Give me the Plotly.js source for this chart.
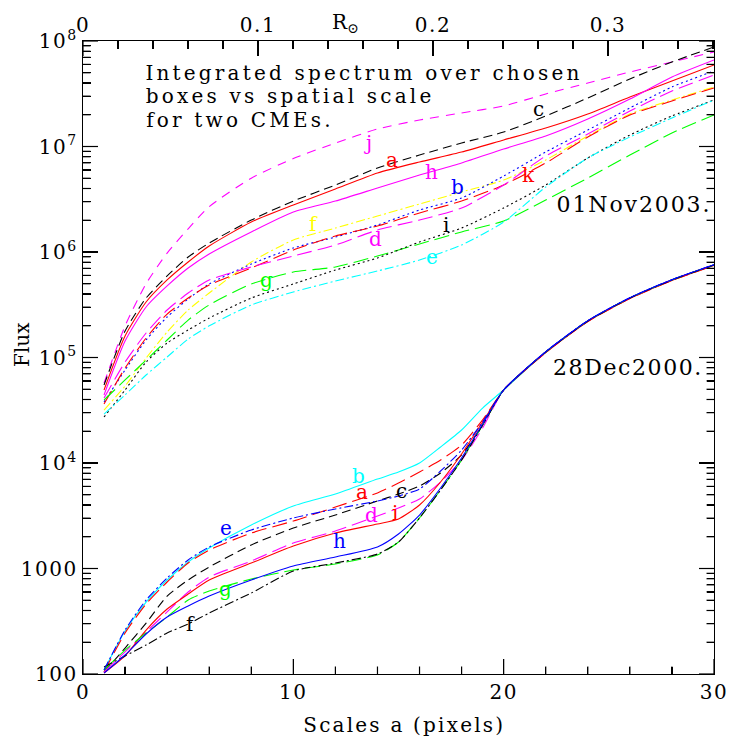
<!DOCTYPE html>
<html>
<head>
<meta charset="utf-8">
<script src="https://cdn.plot.ly/plotly-3.0.1.min.js"></script>
<style>
  html, body { margin: 0; padding: 0; background: #fff; }
  #plot { width: 734px; height: 744px; }
</style>
</head>
<body>
<div id="plot"></div>
<script>
// ---- x values (scale a, pixels) ----
const xNov = [1,2,3,4,5,6,8,10,12,14,16,18,20,22,24,26,28,30];
const xDec = [1,2,3,4,5,6,8,10,12,14,15,16,17,18,19,20,22,24,26,28,30];

// ---- 01Nov2003: log10(Flux) ----
const nov_a = [4.692,5.204,5.526,5.735,5.905,6.057,6.284,6.445,6.597,6.749,6.853,6.948,7.062,7.175,7.308,7.469,7.621,7.773];
const nov_b = [4.578,4.882,5.166,5.384,5.555,5.697,5.886,6.038,6.142,6.256,6.398,6.512,6.720,6.948,7.156,7.365,7.564,7.716];
const nov_c = [4.739,5.251,5.564,5.773,5.953,6.085,6.303,6.483,6.635,6.796,6.919,7.033,7.137,7.289,7.460,7.640,7.801,7.943];
const nov_d = [4.616,4.957,5.232,5.450,5.611,5.735,5.858,5.962,6.066,6.209,6.303,6.417,6.635,6.910,7.118,7.336,7.526,7.678];
const nov_e = [4.464,4.645,4.834,5.005,5.175,5.300,5.498,5.621,5.725,5.820,5.924,6.066,6.284,6.616,6.891,7.090,7.270,7.441];
const nov_f = [4.502,4.730,4.995,5.242,5.450,5.611,5.905,6.114,6.227,6.341,6.455,6.569,6.682,6.872,7.100,7.308,7.441,7.564];
const nov_g = [4.597,4.787,4.976,5.166,5.355,5.498,5.697,5.810,5.858,5.962,6.076,6.190,6.294,6.493,6.701,6.919,7.128,7.299];
const nov_h = [4.645,5.156,5.479,5.678,5.848,5.981,6.190,6.379,6.483,6.607,6.730,6.844,6.976,7.100,7.261,7.450,7.659,7.820];
const nov_i = [4.436,4.692,4.957,5.137,5.261,5.374,5.564,5.697,5.829,5.943,6.095,6.227,6.417,6.635,6.891,7.109,7.289,7.441];
const nov_j = [4.758,5.300,5.700,5.990,6.220,6.430,6.700,6.886,7.033,7.166,7.251,7.318,7.384,7.498,7.602,7.706,7.801,7.896];
const nov_k = [4.559,4.900,5.185,5.412,5.564,5.687,5.848,6.019,6.152,6.246,6.370,6.483,6.635,6.844,7.090,7.299,7.431,7.555];

// ---- 28Dec2000: log10(Flux) ----
const dec_a = [2.019,2.389,2.664,2.872,3.052,3.175,3.336,3.450,3.583,3.716,3.810,3.915,4.028,4.171,4.408,4.692,5.047,5.341,5.559,5.730,5.872];
const dec_b = [2.038,2.408,2.682,2.891,3.062,3.194,3.412,3.592,3.706,3.848,3.915,4.000,4.152,4.313,4.521,4.692,5.052,5.346,5.564,5.735,5.877];
const dec_c = [2.019,2.246,2.483,2.739,2.891,3.014,3.223,3.384,3.507,3.640,3.706,3.782,3.905,4.076,4.360,4.692,5.052,5.346,5.564,5.735,5.877];
const dec_d = [2.019,2.209,2.398,2.588,2.777,2.919,3.071,3.242,3.355,3.498,3.573,3.659,3.820,4.028,4.332,4.692,5.052,5.346,5.564,5.735,5.877];
const dec_e = [2.038,2.417,2.701,2.910,3.081,3.204,3.365,3.479,3.564,3.640,3.687,3.754,3.924,4.123,4.389,4.692,5.055,5.349,5.567,5.738,5.880];
const dec_f = [2.066,2.171,2.275,2.389,2.474,2.578,2.768,2.976,3.052,3.137,3.251,3.479,3.744,4.028,4.360,4.692,5.052,5.346,5.564,5.735,5.877];
const dec_g = [2.038,2.227,2.389,2.540,2.701,2.787,2.900,2.986,3.043,3.128,3.251,3.479,3.744,4.028,4.360,4.692,5.052,5.346,5.564,5.735,5.877];
const dec_h = [2.009,2.180,2.379,2.540,2.645,2.739,2.891,3.024,3.109,3.204,3.327,3.507,3.763,4.047,4.370,4.692,5.055,5.349,5.567,5.738,5.880];
const dec_i = [2.009,2.171,2.417,2.616,2.758,2.891,3.052,3.213,3.336,3.422,3.469,3.602,3.820,4.085,4.389,4.692,5.047,5.341,5.559,5.730,5.872];

// ---- tick labels / tick values ----
const yTickVals = [1e2,1e3,1e4,1e5,1e6,1e7,1e8];
const yTickText = ['100','1000','10<sup>4</sup>','10<sup>5</sup>','10<sup>6</sup>','10<sup>7</sup>','10<sup>8</sup>'];
const xTickVals = [0,10,20,30];
const rTickVals = [0,0.1,0.2,0.3];
const rTickText = ['0','0.1','0.2','0.3'];
const PIXELS_PER_01_RSUN = 8.32;   // 0.1 R_sun corresponds to this many pixels (top axis)
const R_MAX = 30 * 0.1 / PIXELS_PER_01_RSUN;

const yMinor = [];
for (let ex = 2; ex < 8; ex++) for (let m = 2; m <= 9; m++) yMinor.push(m * Math.pow(10, ex));
const xMinor = [];
for (let v = 2; v < 30; v += 2) if (v % 10) xMinor.push(v);
const rMinor = [];
for (let k = 1; k * 0.02 < R_MAX; k++) if (k % 5) rMinor.push(+(k * 0.02).toFixed(2));

const C_RED='#ff0000', C_BLUE='#0000ff', C_BLACK='#000000', C_MAG='#ff00ff', C_CYAN='#00ffff', C_YEL='#ffff00', C_GRN='#00ff00';
const D_SOLID='solid', D_DOT='2px,3px', D_DASH='9px,5px', D_JDASH='9px,7px', D_LDASH='15px,6px', D_DDOT='9px,3px,2px,3px';

const pow10 = arr => arr.map(v => Math.pow(10, v));
function curve(x, logy, color, dash) {
  return {x: x, y: pow10(logy), type: 'scatter', mode: 'lines',
          line: {color: color, width: 1.1, dash: dash, shape: 'spline', smoothing: 0.6},
          hoverinfo: 'skip', showlegend: false};
}

const traces = [
  curve(xNov, nov_j, C_MAG, D_JDASH), curve(xNov, nov_c, C_BLACK, D_DASH), curve(xNov, nov_a, C_RED, D_SOLID),
  curve(xNov, nov_h, C_MAG, D_SOLID), curve(xNov, nov_f, C_YEL, D_DDOT), curve(xNov, nov_b, C_BLUE, D_DOT),
  curve(xNov, nov_k, C_RED, D_LDASH), curve(xNov, nov_d, C_MAG, D_LDASH), curve(xNov, nov_g, C_GRN, D_LDASH),
  curve(xNov, nov_i, C_BLACK, D_DOT), curve(xNov, nov_e, C_CYAN, D_DDOT),
  curve(xDec, dec_b, C_CYAN, D_SOLID), curve(xDec, dec_a, C_RED, D_LDASH), curve(xDec, dec_c, C_BLACK, D_DASH),
  curve(xDec, dec_d, C_MAG, D_LDASH), curve(xDec, dec_i, C_RED, D_SOLID), curve(xDec, dec_g, C_GRN, D_LDASH),
  curve(xDec, dec_f, C_BLACK, D_DDOT), curve(xDec, dec_h, C_BLUE, D_SOLID), curve(xDec, dec_e, C_BLUE, D_DDOT),
  // invisible carrier for the top (solar radius) axis
  {x: [0], y: [1e5], xaxis: 'x2', yaxis: 'y', type: 'scatter', mode: 'markers',
   marker: {opacity: 0}, hoverinfo: 'skip', showlegend: false}
];

const FONT_FAMILY = 'DejaVu Serif';
const PLOT_L = 83, PLOT_R = 714, PLOT_T = 41, PLOT_B = 674;
const PLOT_W = PLOT_R - PLOT_L, PLOT_H = PLOT_B - PLOT_T;
const toPaperX = v => (v - PLOT_L) / PLOT_W;
const toPaperY = v => (PLOT_B - v) / PLOT_H;
function note(text, x, y, color, size) {
  return {text: text, xref: 'paper', yref: 'paper', x: toPaperX(x), y: toPaperY(y),
          xanchor: 'center', yanchor: 'middle', showarrow: false,
          font: {family: FONT_FAMILY, size: size || 20, color: color}};
}

const annotations = [
  note('Integrated spectrum over chosen', 364, 73, C_BLACK, 20),
  note('boxes vs spatial scale', 290, 96, C_BLACK, 20),
  note('for two CMEs.', 240, 120, C_BLACK, 20),
  note('01Nov2003.', 634, 204, C_BLACK, 22),
  note('28Dec2000.', 628, 367, C_BLACK, 22),
  note('R<sub>⊙</sub>', 345, 23, C_BLACK, 20),
  {text: 'Flux', xref: 'paper', yref: 'paper', x: toPaperX(22), y: toPaperY(345), textangle: -90,
   xanchor: 'center', yanchor: 'middle', showarrow: false, font: {family: FONT_FAMILY, size: 20, color: C_BLACK}},
  {text: 'Scales a (pixels)', xref: 'paper', yref: 'paper', x: toPaperX(404), y: toPaperY(725),
   xanchor: 'center', yanchor: 'middle', showarrow: false, font: {family: FONT_FAMILY, size: 20, color: C_BLACK}},
  // 01Nov2003 curve labels
  note('j', 368, 143, C_MAG), note('a', 392, 160, C_RED), note('c', 538, 109, C_BLACK),
  note('h', 431, 172, C_MAG), note('b', 457, 187, C_BLUE), note('k', 528, 175, C_RED),
  note('f', 313, 224, C_YEL), note('d', 375, 239, C_MAG), note('i', 446, 225, C_BLACK),
  note('g', 266, 280, C_GRN), note('e', 432, 257, C_CYAN),
  // 28Dec2000 curve labels
  note('b', 358, 476, C_CYAN), note('a', 362, 492, C_RED), note('c', 401, 491, C_BLACK),
  note('d', 371, 515, C_MAG), note('i', 395, 513, C_RED), note('e', 226, 528, C_BLUE),
  note('h', 339, 541, C_BLUE), note('g', 225, 589, C_GRN), note('f', 190, 624, C_BLACK)
];

// ---- tick marks as axis-referenced line shapes (inside ticks, PGPLOT style) ----
const MAJOR_LEN = 15, MINOR_LEN = 7.5;
const tickLine = {color: '#000', width: 1.2};
const shapes = [];
function xTicks(vals, len, xref) {   // bottom (x) or top (x2) axis
  const top = xref === 'x2';
  vals.forEach(v => shapes.push({type: 'line', layer: 'above', xref: xref, yref: 'paper',
    x0: v, x1: v, y0: top ? 1 : 0, y1: top ? 1 - len / PLOT_H : len / PLOT_H, line: tickLine}));
}
function yTicks(vals, len) {         // left and right (mirrored) ticks
  vals.forEach(v => {
    const yp = (Math.log10(v) - 2) / 6;
    shapes.push({type: 'line', layer: 'above', xref: 'paper', yref: 'paper', x0: 0, x1: len / PLOT_W, y0: yp, y1: yp, line: tickLine});
    shapes.push({type: 'line', layer: 'above', xref: 'paper', yref: 'paper', x0: 1, x1: 1 - len / PLOT_W, y0: yp, y1: yp, line: tickLine});
  });
}
xTicks(xTickVals, MAJOR_LEN, 'x'); xTicks(xMinor, MINOR_LEN, 'x');
xTicks(rTickVals, MAJOR_LEN, 'x2'); xTicks(rMinor, MINOR_LEN, 'x2');
yTicks(yTickVals, MAJOR_LEN); yTicks(yMinor, MINOR_LEN);

const axisCommon = {showline: true, linecolor: '#000', linewidth: 1.3, showgrid: false, zeroline: false,
                    ticks: 'inside', ticklen: MAJOR_LEN, tickwidth: 1.2, tickcolor: '#000',
                    tickfont: {family: FONT_FAMILY, size: 20, color: '#000'}};
const minorCommon = {ticks: 'inside', ticklen: MINOR_LEN, tickwidth: 1.2, tickcolor: '#000', showgrid: false};

const layout = {
  width: 734, height: 744,
  margin: {l: PLOT_L, r: 734 - PLOT_R, t: PLOT_T, b: 744 - PLOT_B, pad: 0},
  paper_bgcolor: '#fff', plot_bgcolor: '#fff',
  showlegend: false,
  xaxis: Object.assign({}, axisCommon, {
    range: [0, 30], tickmode: 'array', tickvals: xTickVals, ticktext: xTickVals.map(String),
    minor: Object.assign({tickmode: 'linear', tick0: 0, dtick: 2}, minorCommon)
  }),
  xaxis2: Object.assign({}, axisCommon, {
    overlaying: 'x', side: 'top', anchor: 'y',
    range: [0, R_MAX],
    tickmode: 'array', tickvals: rTickVals, ticktext: rTickText,
    minor: Object.assign({tickmode: 'linear', tick0: 0, dtick: 0.02}, minorCommon)
  }),
  yaxis: Object.assign({}, axisCommon, {
    type: 'log', range: [2, 8], mirror: 'ticks',
    tickmode: 'array', tickvals: yTickVals, ticktext: yTickText,
    minor: Object.assign({tickmode: 'array', tickvals: yMinor}, minorCommon)
  }),
  shapes: shapes,
  annotations: annotations
};

const SPACING = {'Integrated spectrum over chosen': 3.2, 'boxes vs spatial scale': 3.2, 'for two CMEs.': 3.2,
                 '01Nov2003.': 1.9, '28Dec2000.': 1.6, 'Scales a (pixels)': 2.2};

Plotly.newPlot('plot', traces, layout, {staticPlot: true, displayModeBar: false}).then(() => {
  document.querySelectorAll('.annotation-text').forEach(t => {
    const s = SPACING[t.textContent];
    if (s) t.style.letterSpacing = s + 'px';
  });
  document.querySelectorAll('.xtick text, .ytick text, .x2tick text').forEach(t => t.style.letterSpacing = '1.5px');
});
</script>
</body>
</html>
